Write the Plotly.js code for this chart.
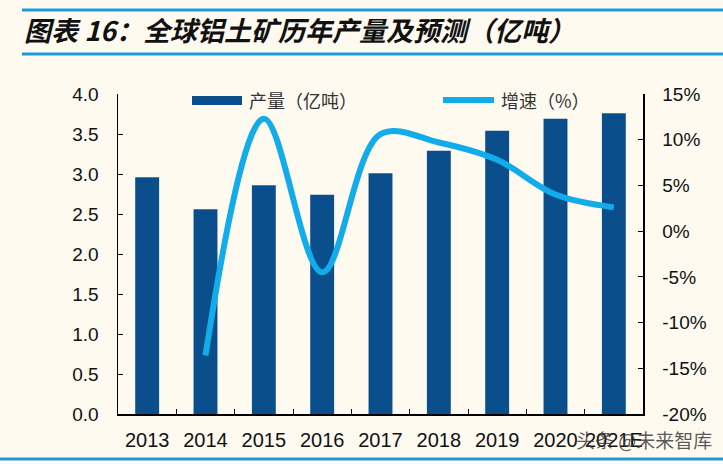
<!DOCTYPE html>
<html>
<head>
<meta charset="utf-8">
<script src="https://cdn.plot.ly/plotly-3.0.1.min.js"></script>
<style>
html,body{margin:0;padding:0;background:#FEFAF0;}
#chart{width:723px;height:464px;}
</style>
</head>
<body>
<div id="chart"></div>
<script>
// ---- data ----
const years = ["2013","2014","2015","2016","2017","2018","2019","2020","2021E"];
const output = [2.96, 2.56, 2.86, 2.74, 3.01, 3.29, 3.54, 3.69, 3.76];   // 产量（亿吨）
const growthYears = ["2014","2015","2016","2017","2018","2019","2020","2021E"];
const growth = [-13.6, 12.3, -4.5, 10.6, 9.7, 7.8, 4.0, 2.6];          // 增速（%）
const leftTicks = [0,0.5,1,1.5,2,2.5,3,3.5,4];
const rightTicks = [-20,-15,-10,-5,0,5,10,15];
const rightTickText = rightTicks.map(v => v + "%");
const titleText = "图表 16：全球铝土矿历年产量及预测（亿吨）";
const barName = "产量（亿吨）";
const lineName = "增速（%）";
const watermark = "头条 @未来智库";

// ---- geometry ----
const W = 723, H = 464;
const L = 118, R = 643, T = 94, B = 414;
const pw = R - L, ph = B - T;
const px = x => (x - L) / pw;
const py = y => (B - y) / ph;

const barColor = "#0A4F8C";
const lineColor = "#12ACEA";
const ruleColor = "#1C9AD8";
const font = "Liberation Sans, Arial, sans-serif";
const cjk = "Noto Sans CJK SC, sans-serif";

const traces = [
  {
    type: "bar", x: years, y: output, name: barName,
    marker: {color: barColor}, width: 0.41, showlegend: false,
    hoverinfo: "x+y"
  },
  {
    type: "scatter", mode: "lines", x: growthYears, y: growth, name: lineName,
    yaxis: "y2", line: {color: lineColor, width: 6, shape: "spline", smoothing: 1},
    showlegend: false
  }
];

const layout = {
  width: W, height: H,
  paper_bgcolor: "#FEFAF0", plot_bgcolor: "rgba(0,0,0,0)",
  margin: {l: L, r: W - R, t: T, b: H - B, pad: 0},
  title: {
    text: titleText,
    font: {family: cjk, size: 27, color: "#111", weight: 700, style: "italic"},
    x: 24 / W, xanchor: "left", xref: "container",
    y: 1 - 32 / H, yanchor: "middle", yref: "container"
  },
  xaxis: {
    type: "category", range: [-0.5, 8.5],
    showline: true, linecolor: "#000", linewidth: 1.5,
    ticks: "inside", ticklen: 5, tickwidth: 1, tickcolor: "#000",
    tickson: "boundaries", tickangle: 0,
    tickfont: {family: font, size: 20, color: "#111"},
    ticklabelstandoff: 7,
    showgrid: false, zeroline: false, fixedrange: true
  },
  yaxis: {
    range: [0, 4], tickvals: leftTicks, tickformat: ".1f",
    showline: true, linecolor: "#000", linewidth: 1.5,
    ticks: "inside", ticklen: 5, tickwidth: 1, tickcolor: "#000",
    tickfont: {family: font, size: 19, color: "#111"},
    ticklabelstandoff: 14,
    showgrid: false, zeroline: false, fixedrange: true
  },
  yaxis2: {
    overlaying: "y", side: "right", range: [-20, 15],
    tickvals: rightTicks, ticktext: rightTickText,
    showline: true, linecolor: "#000", linewidth: 1.5,
    ticks: "inside", ticklen: 5, tickwidth: 1, tickcolor: "#000",
    tickfont: {family: font, size: 19, color: "#111"},
    ticklabelstandoff: 14,
    showgrid: false, zeroline: false, fixedrange: true
  },
  shapes: [
    {type: "line", xref: "paper", yref: "paper", x0: px(22), x1: px(723), y0: py(10), y1: py(10),
     line: {color: ruleColor, width: 3}},
    {type: "line", xref: "paper", yref: "paper", x0: px(22), x1: px(723), y0: py(54), y1: py(54),
     line: {color: ruleColor, width: 3}},
    {type: "line", xref: "paper", yref: "paper", x0: px(0), x1: px(723), y0: py(459), y1: py(459),
     line: {color: ruleColor, width: 3}},
    // legend swatches
    {type: "rect", xref: "paper", yref: "paper", x0: px(192), x1: px(242), y0: py(96), y1: py(105),
     fillcolor: barColor, line: {width: 0}},
    {type: "line", xref: "paper", yref: "paper", x0: px(443), x1: px(494), y0: py(100), y1: py(100),
     line: {color: lineColor, width: 6}}
  ],
  annotations: [
    {text: barName, xref: "paper", yref: "paper", x: px(247), y: py(100), xanchor: "left", yanchor: "middle",
     showarrow: false, font: {family: cjk, size: 18, color: "#333"}},
    {text: lineName, xref: "paper", yref: "paper", x: px(499), y: py(100), xanchor: "left", yanchor: "middle",
     showarrow: false, font: {family: cjk, size: 18, color: "#333"}},
    {text: watermark, xref: "paper", yref: "paper", x: px(574), y: py(439), xanchor: "left", yanchor: "middle",
     showarrow: false, font: {family: cjk, size: 19, color: "rgba(60,60,60,0.85)"}}
  ],
  showlegend: false
};

Plotly.newPlot("chart", traces, layout, {displayModeBar: false, staticPlot: true});
</script>
</body>
</html>
